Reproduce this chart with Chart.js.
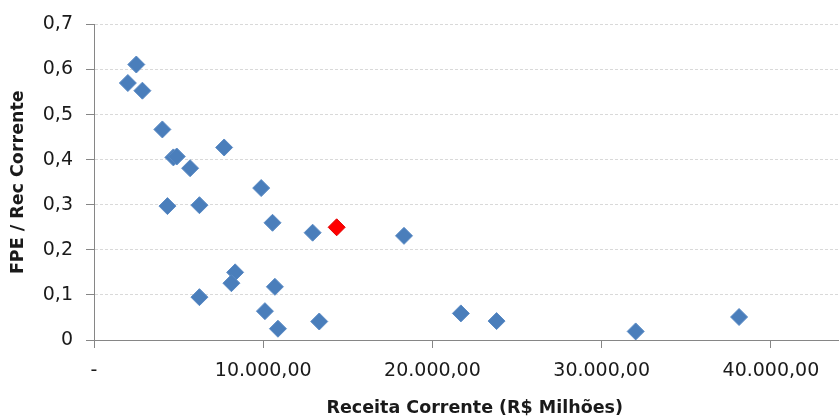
<!DOCTYPE html>
<html>
<head>
<meta charset="utf-8">
<script src="https://cdn.jsdelivr.net/npm/chart.js@4/dist/chart.umd.min.js"></script>
<style>
  html, body { margin: 0; padding: 0; background: #fff; overflow: hidden; }
  /* wider than the window: the original plot area is cut off at the right edge */
  #wrap { position: relative; width: 865px; height: 418px; }
  #Chart { display: block; }
</style>
</head>
<body>
<div id="wrap"><canvas id="Chart"></canvas></div>
<script>
// Receita Corrente (R$ milhões) x FPE / Receita Corrente
let receita = [2500, 2000, 2860, 4040, 4690, 4890, 5680, 7690, 9880, 4340, 6230,
               10550, 12920, 18320, 8340, 8120, 6230, 10690, 10100, 10870, 13310,
               21680, 23790, 32010, 38120];
let fpeRec = [0.611, 0.570, 0.553, 0.467, 0.405, 0.407, 0.381, 0.427, 0.337, 0.297, 0.299,
              0.260, 0.238, 0.231, 0.150, 0.126, 0.095, 0.118, 0.064, 0.025, 0.041,
              0.059, 0.042, 0.019, 0.051];
// ponto em destaque
let destaqueX = [14340];
let destaqueY = [0.250];

let xTicks = [0, 10000, 20000, 30000, 40000];
let yTicks = [0, 0.1, 0.2, 0.3, 0.4, 0.5, 0.6, 0.7];

function toPoints(xs, ys) {
    return xs.map(function (x, i) { return {x: x, y: ys[i]}; });
}

function fmtBR(v) {
    if (v === 0) return '-';
    return v.toLocaleString('pt-BR', {minimumFractionDigits: 2, maximumFractionDigits: 2});
}

let tickFont = {family: 'DejaVu Sans', size: 19};
let titleFont = {family: 'DejaVu Sans', size: 17.5, weight: 'bold'};

let config = {
    type: 'scatter',
    data: {
        datasets: [{
            label: 'Estados',
            data: toPoints(receita, fpeRec),
            backgroundColor: '#4a7ebb',
            borderColor: '#5a8ac4',
            borderWidth: 1,
            pointStyle: 'rectRot',
            pointRadius: 8.5,
            pointHoverRadius: 8.5
        }, {
            label: 'Destaque',
            data: toPoints(destaqueX, destaqueY),
            backgroundColor: '#ff0000',
            borderColor: '#e00000',
            borderWidth: 1,
            pointStyle: 'rectRot',
            pointRadius: 8.5,
            pointHoverRadius: 8.5
        }]
    },
    options: {
        responsive: true,
        maintainAspectRatio: false,
        animation: false,
        layout: {padding: {top: 24, right: 0, left: 0, bottom: 0}},
        plugins: {
            legend: {display: false},
            tooltip: {enabled: false}
        },
        scales: {
            x: {
                type: 'linear',
                min: 0,
                max: 45000,
                afterBuildTicks: function (scale) {
                    scale.ticks = xTicks.map(function (v) { return {value: v}; });
                },
                afterFit: function (scale) {
                    scale.height = 78;
                    scale.paddingLeft = 0;
                    scale.paddingRight = 0;
                },
                ticks: {
                    font: tickFont,
                    color: '#1a1a1a',
                    padding: 12,
                    maxRotation: 0,
                    autoSkip: false,
                    callback: function (v) { return fmtBR(v); }
                },
                grid: {
                    drawOnChartArea: false,
                    drawTicks: true,
                    tickLength: 8,
                    tickColor: '#868686'
                },
                border: {color: '#868686', width: 1},
                title: {
                    display: true,
                    text: 'Receita Corrente (R$ Milhões)',
                    font: titleFont,
                    color: '#1a1a1a',
                    padding: {top: 0, bottom: -1}
                }
            },
            y: {
                type: 'linear',
                min: 0,
                max: 0.7,
                afterBuildTicks: function (scale) {
                    scale.ticks = yTicks.map(function (v) { return {value: v}; });
                },
                afterFit: function (scale) { scale.width = 94; },
                ticks: {
                    font: tickFont,
                    color: '#1a1a1a',
                    padding: 13,
                    callback: function (v) {
                        return v === 0 ? '0' : v.toFixed(1).replace('.', ',');
                    }
                },
                grid: {
                    color: '#d9d9d9',
                    drawTicks: true,
                    tickLength: 8,
                    tickColor: '#868686',
                    tickBorderDash: []
                },
                border: {color: '#868686', width: 1, dash: [3, 2]},
                title: {
                    display: true,
                    text: 'FPE / Rec Corrente',
                    font: titleFont,
                    color: '#1a1a1a',
                    padding: {top: 8, bottom: 0}
                }
            }
        }
    }
};

window.onload = function () {
    let ctx = document.getElementById('Chart').getContext('2d');
    window.myChart = new Chart(ctx, config);
};
</script>
</body>
</html>
